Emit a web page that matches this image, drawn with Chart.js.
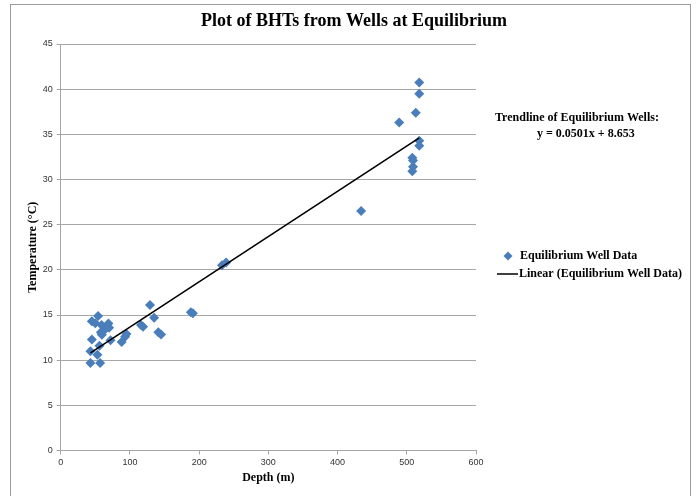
<!DOCTYPE html>
<html>
<head>
<meta charset="utf-8">
<script src="https://cdn.jsdelivr.net/npm/chart.js@4/dist/chart.umd.min.js"></script>
<style>
  html, body { margin: 0; padding: 0; background: #fff; }
  #wrap { position: relative; width: 696px; height: 496px; }
</style>
</head>
<body>
<div id="wrap"><canvas id="c" width="696" height="496"></canvas></div>
<script>
/* Valores: profundidade (m) e temperatura (°C) dos poços em equilíbrio. */
const depthM = [43, 57, 53, 43, 56, 45, 72, 88, 93, 95, 59.5, 58, 64, 66.5, 69, 70, 45, 50, 54, 59,
  116, 119, 129, 135, 141, 145, 188, 191, 233, 239, 434, 489, 513, 518, 518, 518, 518, 508, 509, 509, 508];
const tempC = [9.7, 9.7, 10.6, 11.0, 11.6, 12.3, 12.2, 12.0, 12.6, 12.9, 12.8, 13.1, 13.4, 13.7, 14.05, 13.6, 14.3, 14.1, 14.9, 13.9,
  13.9, 13.7, 16.1, 14.7, 13.1, 12.85, 15.3, 15.2, 20.5, 20.8, 26.5, 36.3, 37.4, 39.5, 40.75, 34.3, 33.75, 32.4, 32.1, 31.4, 30.9];

/* Extremos da linha de tendência. */
const trendDepth = [43, 518];
const trendTemp = [10.8, 34.6];

const yTicks = [0, 5, 10, 15, 20, 25, 30, 35, 40, 45];
const xTicks = [0, 100, 200, 300, 400, 500, 600];

const TITLE = 'Plot of BHTs from Wells at Equilibrium';
const TREND_TEXT = ['Trendline of Equilibrium Wells:', 'y = 0.0501x + 8.653'];
const LEGEND_TEXT = ['Equilibrium Well Data', 'Linear (Equilibrium Well Data)'];

const BLUE = '#4a7ebb';
const GRID = '#a6a6a6';
const SERIF = '"Liberation Serif", "DejaVu Serif", serif';
const SANS = '"Liberation Sans", Arial, sans-serif';

const points = depthM.map((d, i) => ({ x: d, y: tempC[i] }));
const trend = trendDepth.map((d, i) => ({ x: d, y: trendTemp[i] }));

/* Título, texto da tendência, legenda e moldura desenhados à mão. */
const decorPlugin = {
  id: 'decor',
  afterDraw(chart) {
    const { ctx } = chart;
    ctx.save();
    // moldura cinza
    ctx.strokeStyle = '#9a9a9a';
    ctx.lineWidth = 1;
    ctx.strokeRect(10.5, 4.5, 680, 500);

    ctx.fillStyle = '#000';
    ctx.textBaseline = 'middle';
    ctx.textAlign = 'center';
    ctx.font = 'bold 18px ' + SERIF;
    ctx.fillText(TITLE, 354, 21);

    ctx.font = 'bold 12px ' + SERIF;
    ctx.textAlign = 'left';
    ctx.fillText(TREND_TEXT[0], 495, 118);
    ctx.fillText(TREND_TEXT[1], 537, 134);

    // legenda
    const lx = 508, ly1 = 256, ly2 = 274;
    ctx.fillStyle = BLUE;
    ctx.beginPath();
    ctx.moveTo(lx, ly1 - 4.5); ctx.lineTo(lx + 4.5, ly1); ctx.lineTo(lx, ly1 + 4.5); ctx.lineTo(lx - 4.5, ly1);
    ctx.closePath();
    ctx.fill();
    ctx.fillStyle = '#000';
    ctx.fillText(LEGEND_TEXT[0], 520, ly1);
    ctx.strokeStyle = '#000';
    ctx.lineWidth = 1.5;
    ctx.beginPath();
    ctx.moveTo(497, ly2); ctx.lineTo(518, ly2);
    ctx.stroke();
    ctx.fillText(LEGEND_TEXT[1], 519, ly2);
    ctx.restore();
  },
};

new Chart(document.getElementById('c').getContext('2d'), {
  type: 'scatter',
  plugins: [decorPlugin],
  data: {
    datasets: [
      {
        label: LEGEND_TEXT[0],
        data: points,
        pointStyle: 'rectRot',
        pointRadius: 5,
        pointBackgroundColor: BLUE,
        pointBorderColor: BLUE,
        pointBorderWidth: 0,
        order: 2,
      },
      {
        type: 'line',
        label: LEGEND_TEXT[1],
        data: trend,
        borderColor: '#000',
        borderWidth: 1.6,
        pointRadius: 0,
        fill: false,
        order: 1,
      },
    ],
  },
  options: {
    responsive: false,
    animation: false,
    layout: { padding: { left: 22, right: 220, top: 44, bottom: 7 } },
    scales: {
      x: {
        type: 'linear',
        min: 0, max: 600,
        afterBuildTicks: s => { s.ticks = xTicks.map(v => ({ value: v })); },
        afterFit: s => { s.height = 38.5; },
        title: { display: true, text: 'Depth (m)', color: '#000', font: { family: SERIF, size: 12, weight: 'bold' }, padding: { top: 4, bottom: 4 } },
        ticks: { color: '#333', padding: 3, maxRotation: 0, font: { family: SANS, size: 9 } },
        grid: { drawOnChartArea: false, drawTicks: true, tickLength: 4, color: GRID },
        border: { color: GRID },
      },
      y: {
        min: 0, max: 45,
        afterBuildTicks: s => { s.ticks = yTicks.map(v => ({ value: v })); },
        afterFit: s => { s.width = 38.7; },
        title: { display: true, text: 'Temperature (°C)', color: '#000', font: { family: SERIF, size: 12, weight: 'bold' }, padding: { top: 4, bottom: 4 } },
        ticks: { color: '#333', padding: 4, font: { family: SANS, size: 9 } },
        grid: { color: GRID, tickLength: 4 },
        border: { color: GRID },
      },
    },
    plugins: {
      legend: { display: false },
      title: { display: false },
      tooltip: { enabled: false },
    },
  },
});
</script>
</body>
</html>
